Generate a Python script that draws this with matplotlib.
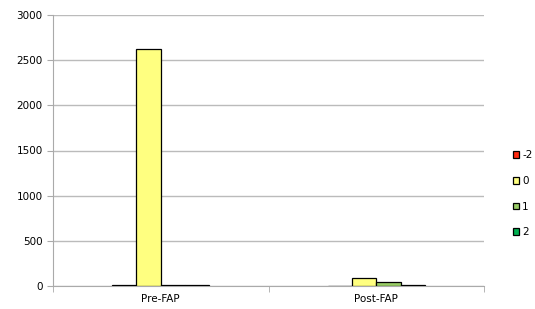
import matplotlib
matplotlib.use("Agg")
import matplotlib.pyplot as plt
import numpy as np

categories = ["Pre-FAP", "Post-FAP"]
series_names = ["-2", "0", "1", "2"]
values_m2 = [8, 0]
values_0 = [2625, 85]
values_1 = [10, 45]
values_2 = [8, 8]
colors = ["#FF2A10", "#FFFF80", "#99CC66", "#00B050"]

fig = plt.figure(figsize=(5.35, 3.09), dpi=100)
ax = fig.add_axes([53/535, 1-286/309, (484-53)/535, (286-15)/309])

x = np.arange(len(categories))
w = 0.113
series = [values_m2, values_0, values_1, values_2]
for i, (name, vals, c) in enumerate(zip(series_names, series, colors)):
    ax.bar(x + (i - 1.5) * w, vals, w, color=c, edgecolor="black", linewidth=0.9,
           label=name, zorder=3)

ax.set_ylim(0, 3000)
ax.set_xlim(-0.5, 1.5)
ax.set_yticks(range(0, 3001, 500))
ax.set_xticks(x)
ax.set_xticklabels(categories)
ax.yaxis.grid(True, color="#BBBBBB", linewidth=1.0, zorder=0)
for s in ["top", "right"]:
    ax.spines[s].set_visible(False)
for s in ["left", "bottom"]:
    ax.spines[s].set_color("#AAAAAA")
ax.tick_params(axis="both", colors="#AAAAAA", labelcolor="black", labelsize=7.5, length=4)
ax.tick_params(axis="x", length=0, pad=6)
ax.set_xticks([-0.5, 0.5, 1.5], minor=True)
ax.tick_params(axis="x", which="minor", length=4, colors="#AAAAAA")

ax.legend(loc="center left", bbox_to_anchor=(1.045, 0.34), frameon=False,
          fontsize=7.5, handlelength=0.6, handleheight=0.6, handletextpad=0.3,
          labelspacing=1.5)

fig.savefig("out.png", dpi=100)
